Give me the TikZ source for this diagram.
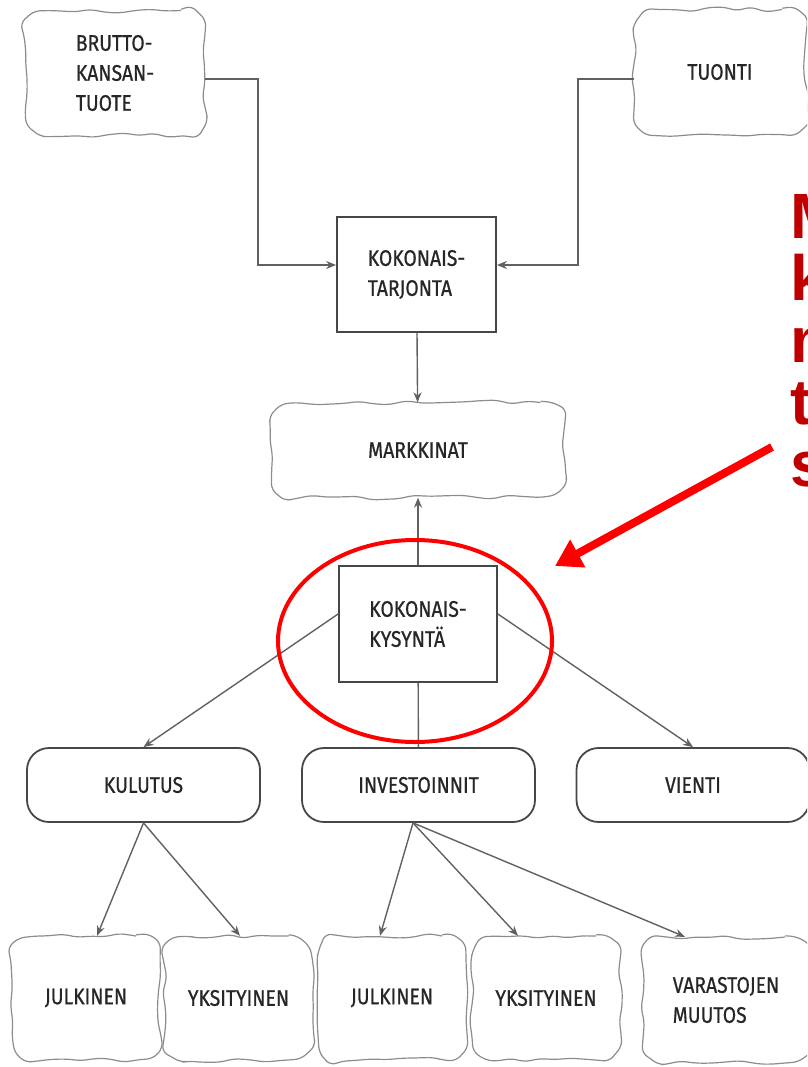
\documentclass[tikz,border=0pt]{standalone}
\usepackage{fontspec}
\setmainfont[FakeStretch=0.86, FakeBold=0.7]{Fira Sans}
\newfontfamily\huomiofont{Liberation Sans}
\usetikzlibrary{decorations.pathmorphing, arrows.meta}
\definecolor{tummapun}{HTML}{C00000}
\tikzset{
  teksti/.style={font=\fontsize{22.5}{30}\selectfont, text=black!85, align=left, inner sep=0pt},
  pilvi/.style={teksti, rounded corners=24pt, postaction={draw=black!45, line width=1.2pt, decorate, decoration={random steps, segment length=15pt, amplitude=2.6pt}, rounded corners=6pt}},
  laatikko/.style={teksti, draw=black!72, line width=1.8pt},
  kapseli/.style={teksti, draw=black!72, line width=1.8pt, rounded corners=22pt, minimum width=233pt, minimum height=74pt},
  yhteys/.style={draw=black!62, line width=1.4pt},
  huomio/.style={font=\huomiofont\bfseries\fontsize{64}{62}\selectfont, text=tummapun, align=left, inner sep=0pt},
}
\begin{document}
\begin{tikzpicture}[x=1pt, y=-1pt, >={Stealth[length=10pt, width=8pt]}]
        \useasboundingbox (0,0) rectangle (807,1067);
        \clip (0,0) rectangle (807,1067);
        \pgfmathsetseed{7}
        \node[pilvi, minimum width=180pt, minimum height=125pt] (BKT) at (115,73) {BRUTTO-\\KANSAN-\\TUOTE};
        \node[pilvi, minimum width=172pt, minimum height=125pt] (TUO) at (720,72) {TUONTI};
        \node[laatikko, minimum width=159pt, minimum height=115pt] (KT) at (416.5,274.5) {KOKONAIS-\\TARJONTA};
        \node[pilvi, minimum width=293pt, minimum height=95pt] (MA) at (418,450) {MARKKINAT};
        \node[laatikko, minimum width=158pt, minimum height=116pt] (KK) at (418,624) {KOKONAIS-\\KYSYNTÄ};
        \node[kapseli] (KU) at (143.5,785) {KULUTUS};
        \node[kapseli] (IN) at (418.5,785) {INVESTOINNIT};
        \node[kapseli] (VI) at (693,785) {VIENTI};
        \node[pilvi, minimum width=148pt, minimum height=124pt] (J1) at (86,998) {JULKINEN};
        \node[pilvi, minimum width=148pt, minimum height=124pt] (Y1) at (238.5,998) {YKSITYINEN};
        \node[pilvi, minimum width=148pt, minimum height=124pt] (J2) at (392,998) {JULKINEN};
        \node[pilvi, minimum width=148pt, minimum height=124pt] (Y2) at (546,998) {YKSITYINEN};
        \node[pilvi, minimum width=166pt, minimum height=126pt] (VM) at (726,1000) {VARASTOJEN\\MUUTOS};
        \draw[yhteys, ->] (BKT.east |- 0,79) -| (258,265) -- (KT.west |- 0,265);
        \draw[yhteys, ->] (TUO.west |- 0,79) -| (578,265) -- (KT.east |- 0,265);
        \draw[yhteys, ->] (KT) -- (MA);
        \draw[yhteys, ->] (KK) -- (MA);
        \draw[yhteys, ->] (KK.west |- 0,614) -- (KU.north);
        \draw[yhteys, ->] (KK.east |- 0,614) -- (VI.north);
        \draw[yhteys] (KK) -- (IN);
        \draw[yhteys, ->] (KU.south) -- (J1.north -| 97,0);
        \draw[yhteys, ->] (KU.south) -- (Y1.north -| 240,0);
        \draw[yhteys, ->] (IN.south -| 413,0) -- (J2.north -| 380,0);
        \draw[yhteys, ->] (IN.south -| 413,0) -- (Y2.north -| 518,0);
        \draw[yhteys, ->] (IN.south -| 413,0) -- (VM.north -| 685,0);
        \draw[red, line width=4pt] (415,641) ellipse [x radius=137, y radius=101];
        \node[huomio, anchor=north west] (HUO) at (790,194) {M\\k\\m\\t\\s};
        \coordinate (R1) at (772,447);
        \coordinate (R2) at (555,566);
        \draw[red, line width=8pt, -{Triangle[length=26pt, width=30pt]}] (R1) -- (R2);
\end{tikzpicture}
\end{document}
